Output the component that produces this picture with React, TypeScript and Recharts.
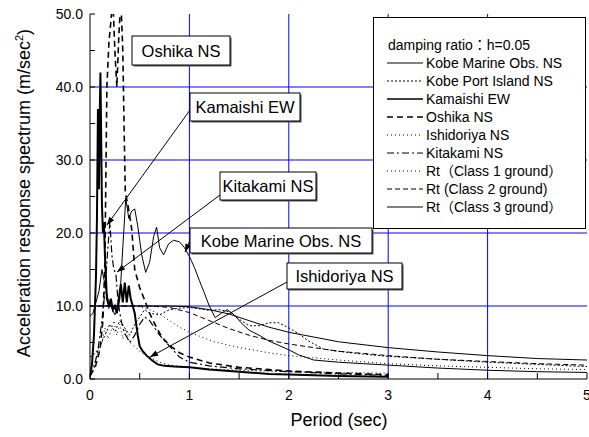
import React from 'react';
import { LineChart, Line, XAxis, YAxis, CartesianGrid } from 'recharts';

// ---- data (period T [sec], acceleration A [m/sec^2]) ----
const kobeMarine = [[0,8.6],[0.03,9],[0.06,10.5],[0.09,12],[0.12,15],[0.15,13],[0.18,11],[0.21,10],[0.25,8.8],[0.28,9.5],[0.3,11],[0.33,18],[0.36,24.8],[0.39,22],[0.42,23],[0.45,23.3],[0.48,21],[0.52,17],[0.56,14.6],[0.6,16],[0.64,19.5],[0.67,20.8],[0.7,18],[0.74,17],[0.79,18.5],[0.84,19],[0.9,18.8],[0.95,18],[1.0,16.8],[1.05,15.3],[1.1,13.5],[1.15,11.8],[1.2,10],[1.26,8.4],[1.32,9],[1.38,9.5],[1.45,8.8],[1.52,7.7],[1.6,6.7],[1.7,6],[1.8,5.2],[1.9,4.6],[2.0,4.0],[2.1,3.3],[2.25,2.6],[2.5,2.3],[2.75,2.1],[3.0,1.9],[3.5,1.5],[4.0,1.2],[4.5,1.0],[5.0,0.9]];
const kobePort = [[0,3],[0.05,3.5],[0.1,4.5],[0.15,6],[0.2,7.5],[0.25,6.5],[0.3,8],[0.35,7],[0.4,6],[0.45,7.5],[0.5,8.5],[0.55,9.5],[0.6,9],[0.7,8.8],[0.8,9.5],[0.9,9.7],[1.0,9.8],[1.1,9.6],[1.2,9.4],[1.3,9.5],[1.4,9.2],[1.5,8.2],[1.6,7.3],[1.7,7.3],[1.8,7.7],[1.9,7.7],[2.0,7.0],[2.1,6.2],[2.2,5.2],[2.35,4.1],[2.5,3.8],[2.75,3.4],[3.0,3.1],[3.5,2.7],[4.0,2.3],[4.5,2.0],[5.0,1.7]];
const kamaishi = [[0,0.5],[0.02,2],[0.04,6],[0.06,14],[0.07,22],[0.08,37],[0.085,30],[0.09,26],[0.1,38],[0.105,42],[0.11,36],[0.12,24],[0.13,20],[0.14,21.5],[0.15,17],[0.17,11],[0.19,10],[0.21,11],[0.23,9.5],[0.25,10],[0.27,9],[0.29,11],[0.31,13],[0.33,10.5],[0.35,13.2],[0.37,10.5],[0.39,12.8],[0.41,11],[0.43,10],[0.45,9],[0.48,6],[0.5,4.5],[0.53,3.8],[0.57,3.2],[0.62,2.6],[0.68,2],[0.75,1.8],[0.85,1.7],[1.0,1.6],[1.2,1.3],[1.4,1.1],[1.6,0.9],[1.8,0.7],[2.0,0.6],[2.5,0.4],[3.0,0.3]];
const oshika = [[0,0.5],[0.05,1.5],[0.1,4],[0.13,8],[0.15,16],[0.16,28],[0.17,40],[0.19,46],[0.21,49],[0.23,52],[0.25,45],[0.27,40],[0.29,47],[0.31,52],[0.33,45],[0.345,33],[0.355,25.5],[0.38,24],[0.42,20.5],[0.45,15],[0.5,12.5],[0.55,10.8],[0.6,9],[0.66,7.3],[0.72,5.8],[0.8,4.6],[0.9,3.6],[1,3],[1.2,2.2],[1.5,1.6],[2,1.1],[2.5,0.8],[3,0.6]];
const ishidoriya = [[0,0.8],[0.04,2],[0.08,3.5],[0.12,5],[0.15,7],[0.18,5.5],[0.21,6.5],[0.24,8],[0.27,6],[0.3,7.5],[0.33,5.5],[0.36,6.8],[0.4,5],[0.45,4.5],[0.5,3.8],[0.55,3.3],[0.6,3],[0.7,2.3],[0.8,1.9],[1.0,1.6],[1.2,1.4],[1.5,1.2],[2,1.0],[2.5,0.9],[3,0.8]];
const kitakami = [[0,0.3],[0.04,1.5],[0.08,4],[0.12,8],[0.15,12],[0.18,18],[0.2,21.5],[0.22,17],[0.24,15],[0.26,14.5],[0.28,11],[0.3,9],[0.33,7],[0.36,6],[0.4,5],[0.45,6],[0.5,7.5],[0.55,8.5],[0.6,8],[0.65,7],[0.7,6],[0.8,4.5],[0.9,3],[1.0,2.3],[1.2,1.8],[1.5,1.4],[2,1.0],[2.5,0.7],[3,0.5]];
const rtClass1 = [[0,10],[0.4,10],[0.5,9.9],[0.6,9.5],[0.7,8.9],[0.8,8.0],[0.9,7.1],[1.0,6.4],[1.25,5.1],[1.5,4.3],[1.75,3.7],[2.0,3.2],[2.5,2.6],[3.0,2.1],[3.5,1.8],[4.0,1.6],[4.5,1.4],[5.0,1.3]];
const rtClass2 = [[0,10],[0.6,10],[0.8,9.8],[1.0,9.1],[1.2,8.0],[1.4,6.9],[1.6,6.0],[1.8,5.3],[2.0,4.8],[2.5,3.8],[3.0,3.2],[3.5,2.7],[4.0,2.4],[4.5,2.1],[5.0,1.9]];
const rtClass3 = [[0,10],[0.8,10],[1.0,9.9],[1.2,9.5],[1.4,8.9],[1.6,8.0],[1.8,7.1],[2.0,6.4],[2.5,5.1],[3.0,4.3],[3.5,3.7],[4.0,3.2],[4.5,2.8],[5.0,2.6]];

const xTicks = [0,0.5,1,1.5,2,2.5,3,3.5,4,4.5,5];
const yTicks = [0,5,10,15,20,25,30,35,40,45,50];
const xGrid = [1,2,3,4];
const yGrid = [10,20,30,40];

const legendTitle = 'damping ratio：h=0.05';
const seriesNames = ['Kobe Marine Obs. NS','Kobe Port Island NS','Kamaishi EW','Oshika NS','Ishidoriya NS','Kitakami NS','Rt（Class 1 ground）','Rt (Class 2 ground)','Rt（Class 3 ground）'];

const FONT = "'Liberation Sans', Arial, 'Noto Sans CJK JP', sans-serif";

const toPts = (arr: number[][]) => arr.map(([t, a]) => ({ t, a }));

const styles = [
  { data: kobeMarine, w: 1, dash: undefined },
  { data: kobePort, w: 1, dash: '2 2' },
  { data: kamaishi, w: 2, dash: undefined },
  { data: oshika, w: 1.6, dash: '6 4' },
  { data: ishidoriya, w: 1, dash: '1 3' },
  { data: kitakami, w: 1.2, dash: '7 3 2 3' },
  { data: rtClass1, w: 1, dash: '1 3' },
  { data: rtClass2, w: 1, dash: '5 3' },
  { data: rtClass3, w: 1, dash: undefined },
];

const BottomTick = (p: any) => {
  const v = p.payload.value;
  return (
    <g>
      <line x1={p.x} y1={p.y} x2={p.x} y2={p.y - 6} stroke="#000" />
      {Number.isInteger(v) && (
        <text x={p.x} y={p.y + 21} textAnchor="middle" fontSize={14} fontFamily={FONT} fill="#000">{v}</text>
      )}
    </g>
  );
};
const TopTick = (p: any) => <line x1={p.x} y1={p.y} x2={p.x} y2={p.y + 6} stroke="#000" />;
const LeftTick = (p: any) => {
  const v = p.payload.value;
  return (
    <g>
      <line x1={p.x} y1={p.y} x2={p.x + 5} y2={p.y} stroke="#000" />
      {v % 10 === 0 && (
        <text x={p.x - 7} y={p.y + 5} textAnchor="end" fontSize={14} fontFamily={FONT} fill="#000">{v.toFixed(1)}</text>
      )}
    </g>
  );
};
const RightTick = (p: any) => <line x1={p.x} y1={p.y} x2={p.x - 5} y2={p.y} stroke="#000" />;

const Arrow = ({ x1, y1, x2, y2 }: any) => {
  const ang = Math.atan2(y2 - y1, x2 - x1);
  const L = 8, W = 3;
  const bx = x2 - L * Math.cos(ang), by = y2 - L * Math.sin(ang);
  const px = -Math.sin(ang) * W, py = Math.cos(ang) * W;
  return (
    <g>
      <line x1={x1} y1={y1} x2={x2} y2={y2} stroke="#000" strokeWidth={1} />
      <polygon points={`${x2},${y2} ${bx + px},${by + py} ${bx - px},${by - py}`} fill="#000" />
    </g>
  );
};

const Box = ({ x, y, w, h, text }: any) => (
  <g>
    <rect x={x + 1.5} y={y + 1.5} width={w} height={h} fill="#555" />
    <rect x={x} y={y} width={w} height={h} fill="#fff" stroke="#000" strokeWidth={1} />
    <text x={x + w / 2} y={y + h / 2 + 6} textAnchor="middle" fontSize={16.5} fontFamily={FONT} fill="#000">{text}</text>
  </g>
);

export default function App() {
  return (
    <div style={{ position: 'absolute', left: 0, top: 0, width: 589, height: 437, background: '#fff' }}>
      <LineChart width={589} height={437} margin={{ top: 14, right: 2, left: 0, bottom: 0 }}>
        <CartesianGrid xAxisId="b" yAxisId="l" horizontalValues={yGrid} verticalValues={xGrid} stroke="#0000ff" strokeWidth={1} />
        <XAxis xAxisId="b" dataKey="t" type="number" domain={[0, 5]} ticks={xTicks} interval={0} orientation="bottom" height={58}
          tickSize={0} tickMargin={0} tickLine={false} tick={<BottomTick />} axisLine={{ stroke: '#000' }} allowDataOverflow />
        <XAxis xAxisId="t" dataKey="t" type="number" domain={[0, 5]} ticks={xTicks} interval={0} orientation="top" height={0}
          tickSize={0} tickMargin={0} tickLine={false} tick={<TopTick />} axisLine={{ stroke: '#000' }} allowDataOverflow />
        <YAxis yAxisId="l" type="number" domain={[0, 50]} ticks={yTicks} interval={0} orientation="left" width={90}
          tickSize={0} tickMargin={0} tickLine={false} tick={<LeftTick />} axisLine={{ stroke: '#000' }} allowDataOverflow />
        <YAxis yAxisId="r" type="number" domain={[0, 50]} ticks={yTicks} interval={0} orientation="right" width={0}
          tickSize={0} tickMargin={0} tickLine={false} tick={<RightTick />} axisLine={{ stroke: '#000' }} allowDataOverflow />
        {[8, 7, 6, 5, 4, 3, 1, 0, 2].map((i) => (
          <Line key={i} xAxisId="b" yAxisId="l" data={toPts(styles[i].data)} dataKey="a" type="linear"
            stroke="#000" strokeWidth={styles[i].w} strokeDasharray={styles[i].dash}
            dot={false} activeDot={false} isAnimationActive={false} name={seriesNames[i]} />
        ))}
      </LineChart>
      <svg width={589} height={437} style={{ position: 'absolute', left: 0, top: 0, pointerEvents: 'none' }}>
        {/* axis titles */}
        <text x={339} y={426} textAnchor="middle" fontSize={18} fontFamily={FONT} fill="#000">Period (sec)</text>
        <text transform="translate(30,193) rotate(-90)" textAnchor="middle" fontSize={18} fontFamily={FONT} fill="#000">
          Acceleration response spectrum (m/sec<tspan dy={-7} fontSize={11}>2</tspan><tspan dy={7}>)</tspan>
        </text>
        {/* legend */}
        <rect x={373.5} y={17.5} width={212} height={211} fill="#fff" stroke="#000" strokeWidth={1} />
        <text x={388} y={50} fontSize={14} fontFamily={FONT} fill="#000">{legendTitle}</text>
        {seriesNames.map((n, i) => {
          const cy = 63 + i * 18;
          return (
            <g key={n}>
              <line x1={387} y1={cy} x2={423} y2={cy} stroke="#000" strokeWidth={Math.min(styles[i].w, 1.6)} strokeDasharray={styles[i].dash} />
              <text x={426} y={cy + 5} fontSize={14} fontFamily={FONT} fill="#000">{n}</text>
            </g>
          );
        })}
        {/* annotations */}
        <Box x={132} y={36} w={98} h={29} text="Oshika NS" />
        <Arrow x1={190} y1={110} x2={107} y2={225} />
        <Box x={190} y={93} w={110} h={28} text="Kamaishi EW" />
        <Arrow x1={220} y1={195} x2={117} y2={272} />
        <Box x={220} y={172} w={96} h={28} text="Kitakami NS" />
        <Arrow x1={191} y1={238} x2={185} y2={252} />
        <Box x={190} y={228} w={182} h={25} text="Kobe Marine Obs. NS" />
        <Arrow x1={287} y1={282} x2={150} y2={357} />
        <Box x={287} y={263} w={115} h={26} text="Ishidoriya NS" />
      </svg>
    </div>
  );
}
